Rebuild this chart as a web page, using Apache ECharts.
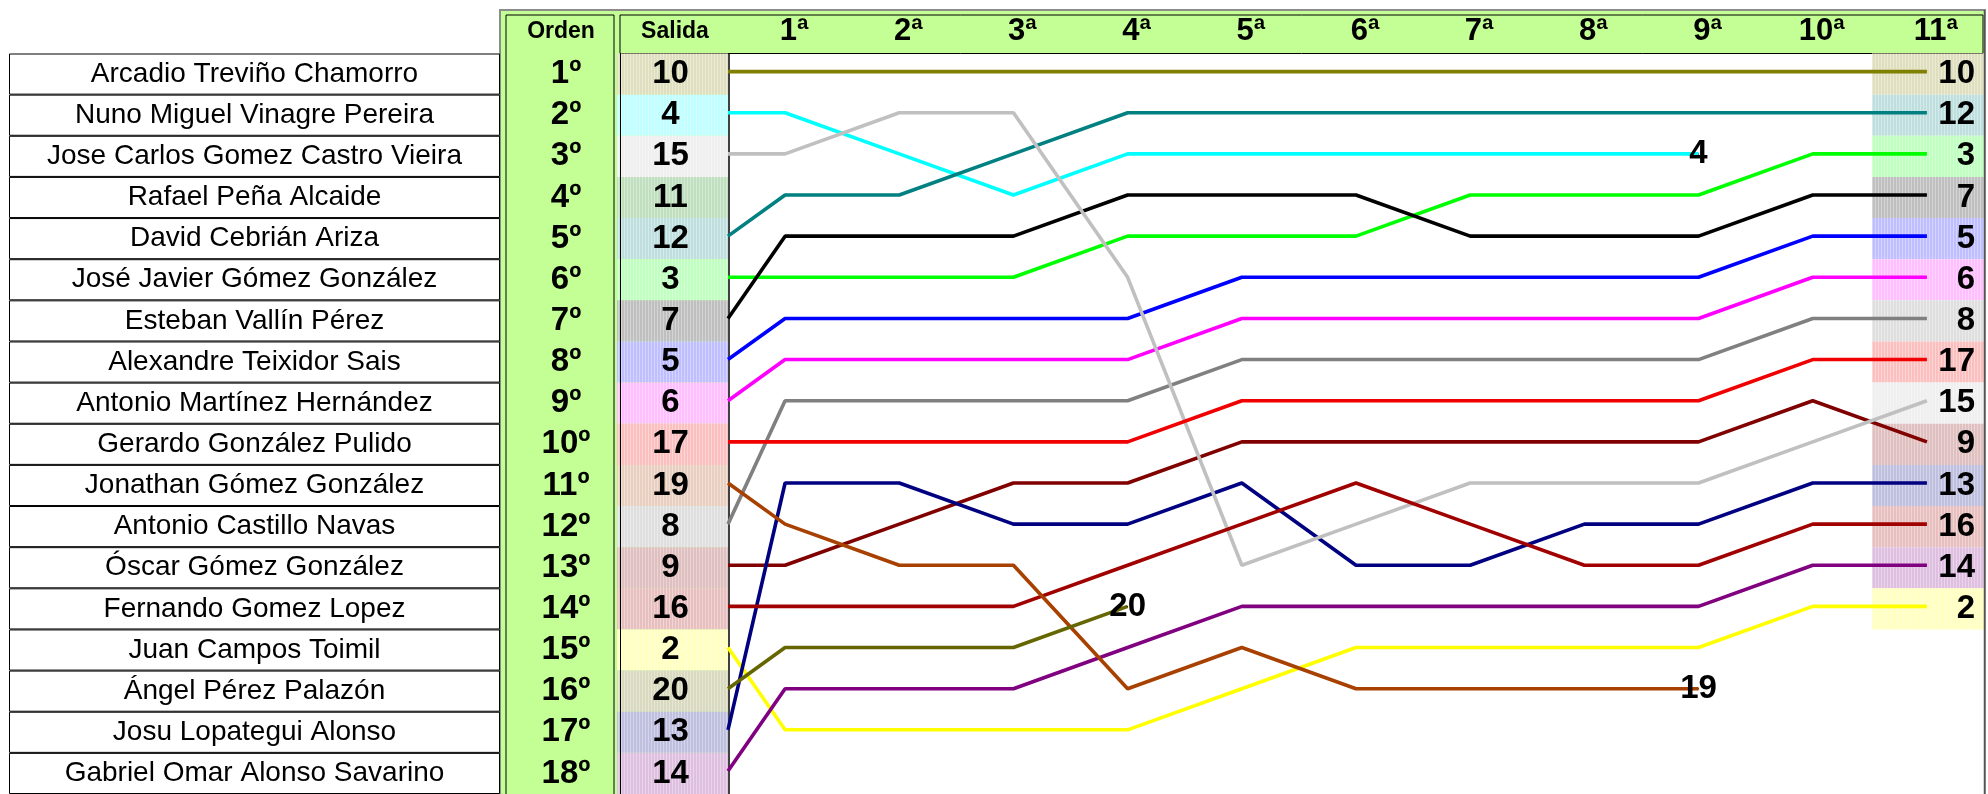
<!DOCTYPE html>
<html><head><meta charset="utf-8">
<script src="https://cdn.jsdelivr.net/npm/echarts@6/dist/echarts.min.js"></script>
<style>html,body{margin:0;padding:0;background:#fff}#c{width:1988px;height:794px}</style>
</head><body><div id="c"></div>
<script>
// ---------- DATA ----------
const names = [
  'Arcadio Treviño Chamorro','Nuno Miguel Vinagre Pereira','Jose Carlos Gomez Castro Vieira',
  'Rafael Peña Alcaide','David Cebrián Ariza','José Javier Gómez González','Esteban Vallín Pérez',
  'Alexandre Teixidor Sais','Antonio Martínez Hernández','Gerardo González Pulido',
  'Jonathan Gómez González','Antonio Castillo Navas','Óscar Gómez González','Fernando Gomez Lopez',
  'Juan Campos Toimil','Ángel Pérez Palazón','Josu Lopategui Alonso','Gabriel Omar Alonso Savarino'
];
const ordenLabels = ['1º','2º','3º','4º','5º','6º','7º','8º','9º','10º','11º','12º','13º','14º','15º','16º','17º','18º'];
const salida = ['10','4','15','11','12','3','7','5','6','17','19','8','9','16','2','20','13','14'];
const roundLabels = ['1ª','2ª','3ª','4ª','5ª','6ª','7ª','8ª','9ª','10ª','11ª'];
const finalOrder = ['10','12','3','7','5','6','8','17','15','9','13','16','14','2'];

// positions: [Salida, 1ª, 2ª, ... 11ª]
const rider10 = [1,1,1,1,1,1,1,1,1,1,1,1];
const rider4  = [2,2,3,4,3,3,3,3,3,3];
const rider15 = [3,3,2,2,6,13,12,11,11,11,10,9];
const rider12 = [5,4,4,3,2,2,2,2,2,2,2,2];
const rider3  = [6,6,6,6,5,5,5,4,4,4,3,3];
const rider7  = [7,5,5,5,4,4,4,5,5,5,4,4];
const rider5  = [8,7,7,7,7,6,6,6,6,6,5,5];
const rider6  = [9,8,8,8,8,7,7,7,7,7,6,6];
const rider17 = [10,10,10,10,10,9,9,9,9,9,8,8];
const rider19 = [11,12,13,13,16,15,16,16,16,16];
const rider8  = [12,9,9,9,9,8,8,8,8,8,7,7];
const rider9  = [13,13,12,11,11,10,10,10,10,10,9,10];
const rider16 = [14,14,14,14,13,12,11,12,13,13,12,12];
const rider2  = [15,17,17,17,17,16,15,15,15,15,14,14];
const rider20 = [16,15,15,15,14];
const rider13 = [17,11,11,12,12,11,13,13,12,12,11,11];
const rider14 = [18,16,16,16,15,14,14,14,14,14,13,13];
const dropouts = ['4','20','19'];

// ---------- STYLE ----------
const riderPositions = {'10':rider10,'4':rider4,'15':rider15,'12':rider12,'3':rider3,'7':rider7,'5':rider5,
  '6':rider6,'17':rider17,'19':rider19,'8':rider8,'9':rider9,'16':rider16,'2':rider2,'20':rider20,'13':rider13,'14':rider14};
const lineColors = {'10':'#808000','4':'#00FFFF','15':'#C0C0C0','11':'#008000','12':'#008080','3':'#00FF00',
  '7':'#000000','5':'#0000FF','6':'#FF00FF','17':'#F00000','19':'#A84000','8':'#808080','9':'#800000',
  '16':'#A00000','2':'#FFFF00','20':'#666600','13':'#000080','14':'#800080'};
function strip(n){
  const h = lineColors[n];
  const r = parseInt(h.slice(1,3),16), g = parseInt(h.slice(3,5),16), b = parseInt(h.slice(5,7),16);
  const f = v => Math.round(v*0.25 + 255*0.75);
  return 'rgb(' + f(r) + ',' + f(g) + ',' + f(b) + ')';
}
const stripDecal = {symbol:'rect', symbolSize:1, dashArrayX:[1,2], dashArrayY:[10,0], rotation:0,
  color:'rgba(255,255,255,0.35)'};
const FONT = "'Liberation Sans', Arial, sans-serif";
const GREEN = '#C3FF95';
const TOP = 53.5, H = 745;
const hv = g => ({type:'value', gridIndex:g, min:0, max:1, show:false});
const hc = (g, data) => ({type:'category', gridIndex:g, inverse:true, data:data, show:false});
const headAxis = (g, data, size, pad, margin) => ({type:'category', gridIndex:g, position:'top', data:data,
  axisLine:{show:false}, axisTick:{show:false}, splitLine:{show:false},
  axisLabel:{interval:0, fontSize:size, fontWeight:'bold', color:'#000', fontFamily:FONT, margin:margin,
    lineHeight:size, padding:pad}});
const boldLabel = {color:'#000', fontFamily:FONT, fontWeight:'bold', fontSize:33, textBorderWidth:0, opacity:1};

const series = [];
series.push({type:'bar', xAxisIndex:0, yAxisIndex:0, barWidth:'100%', silent:true,
  data: names.map(() => 1),
  itemStyle:{color:'#fff', borderColor:'#000', borderWidth:1},
  label:{show:true, position:'inside', formatter:p => p.name, color:'#000', fontFamily:FONT, fontSize:28, textBorderWidth:0}});
series.push({type:'bar', xAxisIndex:1, yAxisIndex:1, barWidth:'100%', silent:true,
  data: ordenLabels.map(() => 1), itemStyle:{color:'rgba(0,0,0,0)'},
  label:Object.assign({show:true, position:'inside', formatter:p => p.name, offset:[6,0]}, boldLabel)});
series.push({type:'bar', xAxisIndex:3, yAxisIndex:2, barWidth:'100%', silent:true,
  data: salida.map(n => ({value:1, itemStyle:{color:strip(n), decal:stripDecal}})),
  label:Object.assign({show:true, position:'inside', formatter:p => p.name, offset:[-2,0]}, boldLabel)});
series.push({type:'bar', xAxisIndex:7, yAxisIndex:4, barWidth:'100%', silent:true,
  data: finalOrder.map(n => ({value:1, itemStyle:{color:strip(n), decal:stripDecal}})),
  label:Object.assign({show:true, position:'insideRight', distance:9, formatter:p => finalOrder[p.dataIndex]}, boldLabel)});
Object.keys(riderPositions).forEach(n => {
  series.push({type:'line', name:n, xAxisIndex:5, yAxisIndex:3, z:10, clip:false, showSymbol:false, symbol:'none',
    silent:true, lineStyle:{color:lineColors[n], width:3.6}, itemStyle:{color:lineColors[n]},
    data: riderPositions[n].map((p,i) => [i === 0 ? 0.5 : i, p])});
});
series.push({type:'scatter', xAxisIndex:5, yAxisIndex:3, z:20, zlevel:0, symbolSize:1, silent:true,
  itemStyle:{color:'#000', opacity:1},
  data: dropouts.map(n => { const a = riderPositions[n]; return {name:n, value:[a.length-1, a[a.length-1]]}; }),
  label:Object.assign({show:true, position:'inside', formatter:p => p.name}, boldLabel)});

const chart = echarts.init(document.getElementById('c'), null, {renderer:'canvas'});
chart.setOption({
  animation:false,
  backgroundColor:'#fff',
  grid:[
    {left:9, top:TOP, width:491, height:H},
    {left:506, top:TOP, width:108, height:H},
    {left:617, top:TOP, width:111, height:H},
    {left:728, top:TOP, width:1256, height:H},
    {left:1872, top:TOP, width:112, height:H}
  ],
  xAxis:[
    hv(0), hv(1), headAxis(1, ['Orden'], 23, [0,0,0,2], 10),
    hv(2), headAxis(2, ['Salida'], 23, [0,0,0,5], 10),
    {type:'value', gridIndex:3, min:0.5, max:11.5, show:false},
    headAxis(3, roundLabels, 31, [0,0,0,18], 7),
    hv(4)
  ],
  yAxis:[
    hc(0, names), hc(1, ordenLabels), hc(2, salida),
    {type:'value', gridIndex:3, inverse:true, min:0.56, max:18.56, show:false},
    hc(4, ordenLabels)
  ],
  graphic:[
    {type:'rect', z:0, silent:true, shape:{x:500,y:10,width:1485,height:800}, style:{fill:GREEN, stroke:'#8c8c8c', lineWidth:2}},
    {type:'rect', z:1, silent:true, shape:{x:728,y:53.5,width:1256,height:760}, style:{fill:'#fff'}},
    {type:'rect', z:1, silent:true, shape:{x:506,y:15,width:108,height:800}, style:{fill:null, stroke:'#000', lineWidth:1}},
    {type:'rect', z:1, silent:true, shape:{x:620,y:15,width:1363,height:38.5}, style:{fill:null, stroke:'#000', lineWidth:1}},
    {type:'line', z:30, silent:true, shape:{x1:620.5,y1:53,x2:620.5,y2:800}, style:{stroke:'#000', lineWidth:1}},
    {type:'line', z:5, silent:true, shape:{x1:729,y1:53,x2:729,y2:800}, style:{stroke:'#000', lineWidth:1.5}},
    {type:'line', z:30, silent:true, shape:{x1:1984.5,y1:10,x2:1984.5,y2:800}, style:{stroke:'#555', lineWidth:1.5}}
  ],
  series:series
});
</script></body></html>
